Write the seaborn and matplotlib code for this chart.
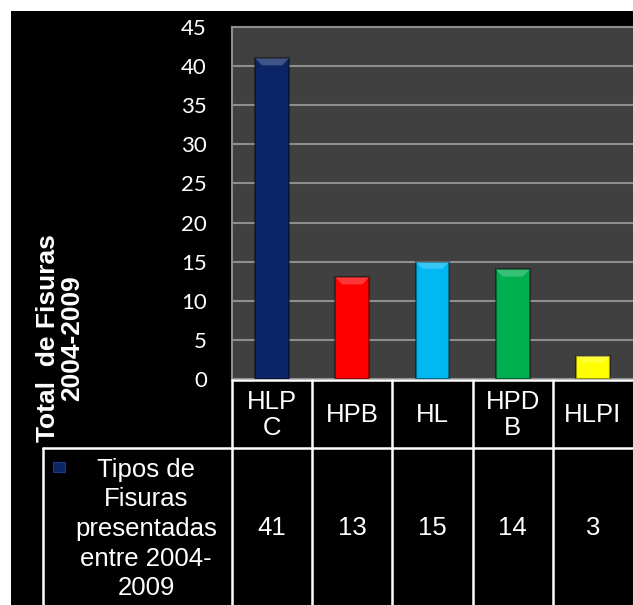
import matplotlib
matplotlib.use("Agg")
import matplotlib.pyplot as plt
import seaborn as sns
import pandas as pd
from matplotlib.patches import Rectangle, Polygon
from matplotlib.lines import Line2D

# data
categories = ["HLPC", "HPB", "HL", "HPDB", "HLPI"]
header_labels = ["HLP\nC", "HPB", "HL", "HPD\nB", "HLPI"]
values = [41, 13, 15, 14, 3]
bar_colors = ["#0b2566", "#ff0000", "#00b8f2", "#00b050", "#ffff00"]
series_name = "Tipos de\nFisuras\npresentadas\nentre 2004-\n2009"
y_label = "Total  de Fisuras\n2004-2009"

W, H = 633, 605


def fx(x):
    return x / W


def fy(y):
    return 1 - y / H


sns.set_theme(style="dark")
plt.rcParams["font.family"] = ["Liberation Sans", "DejaVu Sans"]

fig = plt.figure(figsize=(W / 100, H / 100), dpi=100, facecolor="white")
# black slide background
fig.add_artist(Rectangle((fx(11), 0), 1 - fx(11), fy(11), transform=fig.transFigure,
                         facecolor="black", edgecolor="none", zorder=0))

left, right, top, bottom = 232, 633, 27, 379
ax = fig.add_axes([fx(left), fy(bottom), fx(right - left), (bottom - top) / H])

df = pd.DataFrame({"cat": categories, "val": values})
sns.barplot(data=df, x="cat", y="val", hue="cat", palette=bar_colors, legend=False,
            width=0.42, saturation=1, ax=ax, zorder=3)

# bevel look: darker edge and a lighter cap on top of each bar
for bar in list(ax.patches):
    bar.set_edgecolor((0, 0, 0, 0.4))
    bar.set_linewidth(1.5)
    x0, w, h = bar.get_x(), bar.get_width(), bar.get_height()
    cap = 0.9
    ax.add_patch(Polygon([(x0, h), (x0 + w, h), (x0 + w * 0.8, h - cap), (x0 + w * 0.2, h - cap)],
                         closed=True, facecolor=(1, 1, 1, 0.22), edgecolor="none", zorder=4))

ax.set_facecolor("#404040")
ax.set_ylim(0, 45)
ax.set_yticks(range(0, 46, 5))
ax.set_xlim(-0.5, len(categories) - 0.5)
ax.grid(axis="y", color="#8e8e8e", linewidth=1.5, zorder=0)
ax.grid(axis="x", visible=False)
ax.set_axisbelow(True)
ax.set_xticks([])
ax.set_xlabel("")
ax.set_ylabel("")
ax.tick_params(axis="y", colors="white", labelsize=16, length=0, pad=18)
for t in ax.get_yticklabels():
    t.set_fontfamily(["Lato", "DejaVu Sans"])
for s in ["left", "top"]:
    ax.spines[s].set_color("#8e8e8e")
    ax.spines[s].set_linewidth(1.5)
ax.spines["right"].set_visible(False)
ax.spines["bottom"].set_visible(False)

# y axis title
fig.text(fx(60), fy(338), y_label, rotation=90, ha="center", va="center",
         color="white", fontsize=19, fontweight="bold", linespacing=1.05)

# data table below the plot
col_edges = [232 + i * (633 - 232) / len(categories) for i in range(len(categories) + 1)]
row_top, row_mid, row_bot = 380, 448, 605
lw = 1.8
table_size = 18.5


def hline(x0, x1, y):
    fig.add_artist(Line2D([fx(x0), fx(x1)], [fy(y), fy(y)], color="white", lw=lw))


def vline(x, y0, y1):
    fig.add_artist(Line2D([fx(x), fx(x)], [fy(y0), fy(y1)], color="white", lw=lw))


hline(232, 633, row_top)
hline(43, 633, row_mid)
for x in col_edges[:-1]:
    vline(x, row_top, row_bot)
vline(43, row_mid, row_bot)

for i, (lab, v) in enumerate(zip(header_labels, values)):
    cx = (col_edges[i] + col_edges[i + 1]) / 2
    fig.text(fx(cx), fy((row_top + row_mid) / 2 + 1), lab, ha="center", va="center",
             color="white", fontsize=table_size, linespacing=1.1)
    fig.text(fx(cx), fy(528), str(v), ha="center", va="center",
             color="white", fontsize=table_size)

# legend key + series name
fig.add_artist(Rectangle((fx(53), fy(472)), fx(12), 10 / H, transform=fig.transFigure,
                         facecolor=bar_colors[0], edgecolor="#1d3a8a", lw=0.8))
fig.text(fx(146), fy(529), series_name, ha="center", va="center", color="white",
         fontsize=table_size, linespacing=1.29)

fig.savefig("out.png", dpi=100, facecolor=fig.get_facecolor())
